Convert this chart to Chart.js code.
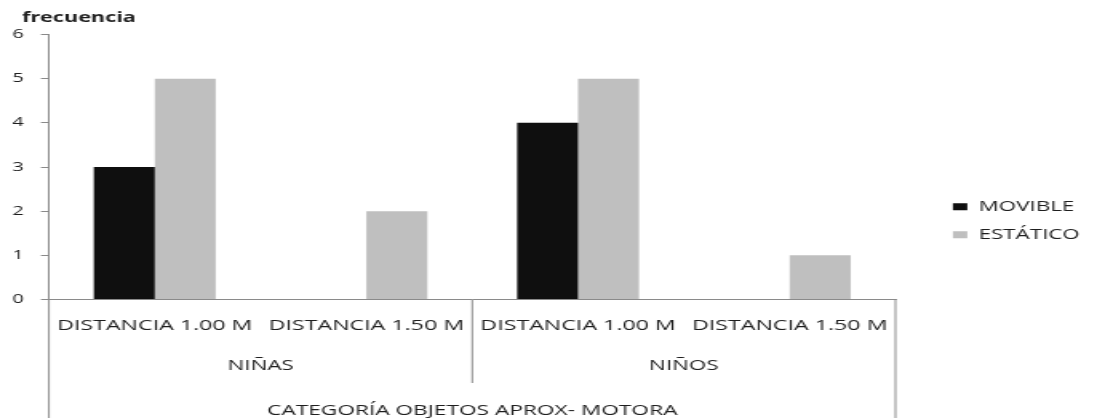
<!DOCTYPE html>
<html>
<head>
<meta charset="utf-8">
<script src="https://cdn.jsdelivr.net/npm/chart.js@4.4.1/dist/chart.umd.min.js"></script>
<style>
  html, body { margin: 0; padding: 0; background: #ffffff; overflow: hidden; }
  #wrap { width: 686px; height: 418px; transform: scaleX(1.5991); transform-origin: 0 0; }
  #c { display: block; }
</style>
</head>
<body>
<div id="wrap"><canvas id="c" width="686" height="418" style="width:686px;height:418px"></canvas></div>
<script>
// Categories (first level) and their groups (second level)
const categories = ['DISTANCIA 1.00 M', 'DISTANCIA 1.50 M', 'DISTANCIA 1.00 M', 'DISTANCIA 1.50 M'];
const groups = ['NIÑAS', 'NIÑOS'];
const groupSize = 2;

// Series
const seriesNames = ['MOVIBLE', 'ESTÁTICO'];
const movible = [3, 0, 4, 0];
const estatico = [5, 2, 5, 1];

// Axis settings
const yMin = 0;
const yMax = 6;
const yStep = 1;

const yTitle = 'frecuencia';
const xTitle = 'CATEGORÍA OBJETOS APROX- MOTORA';

const AXIS_COLOR = '#8a8a8a';
const TEXT_COLOR = '#1e1e1e';
const FONT = "'Open Sans', sans-serif";

// Layout (canvas units)
const CANVAS_W = 686;
const PLOT_RIGHT = 560;
const LEGEND_LEFT = 581.9;
const LEGEND_FONT = 14;
const LEGEND_PAD = 14;
const LEGEND_BOX_W = 9;
const LEGEND_EXTRA = 10; // Chart.js adds this to vertical legends

Chart.defaults.font.family = FONT;
Chart.defaults.color = TEXT_COLOR;

// Width the legend will take, so the legend sits at LEGEND_LEFT
const measure = document.createElement('canvas').getContext('2d');
measure.font = LEGEND_FONT + "px " + FONT;
const legendTextW = Math.max(...seriesNames.map(t => measure.measureText(t).width));
const legendW = LEGEND_PAD + LEGEND_BOX_W + LEGEND_FONT / 2 + legendTextW + LEGEND_EXTRA;
const padRight = Math.max(0, CANVAS_W - LEGEND_LEFT - legendW);

// Draws the value-axis caption, the second category level (group names),
// the separators between groups and the outer borders below the plot.
const groupAxis = {
  id: 'groupAxis',
  afterDraw(chart) {
    const { ctx, scales: { x } } = chart;
    const half = (x.getPixelForValue(1) - x.getPixelForValue(0)) / 2;
    const top = x.top;
    ctx.save();
    // caption above the value axis
    ctx.fillStyle = TEXT_COLOR;
    ctx.font = "bold 13.5px " + FONT;
    ctx.textAlign = 'left';
    ctx.textBaseline = 'alphabetic';
    ctx.fillText(yTitle, 13.75, 22);

    ctx.strokeStyle = AXIS_COLOR;
    ctx.lineWidth = 1;
    ctx.beginPath();
    // outer borders
    ctx.moveTo(x.left, top); ctx.lineTo(x.left, chart.height);
    ctx.moveTo(x.right, top); ctx.lineTo(x.right, chart.height);
    // separators between groups
    for (let g = 1; g < groups.length; g++) {
      const sx = x.getPixelForValue(g * groupSize) - half;
      ctx.moveTo(sx, top); ctx.lineTo(sx, top + 83.5);
    }
    ctx.stroke();

    ctx.font = "14px " + FONT;
    ctx.textAlign = 'center';
    ctx.textBaseline = 'middle';
    groups.forEach((name, g) => {
      const l = x.getPixelForValue(g * groupSize) - half;
      const r = x.getPixelForValue(g * groupSize + groupSize - 1) + half;
      ctx.fillText(name, (l + r) / 2, top + 67);
    });
    ctx.restore();
  }
};

new Chart(document.getElementById('c'), {
  type: 'bar',
  data: {
    labels: categories,
    datasets: [
      { label: seriesNames[0], data: movible, backgroundColor: '#0f0f0f', borderWidth: 0,
        barPercentage: 1, categoryPercentage: 0.576 },
      { label: seriesNames[1], data: estatico, backgroundColor: '#bfbfbf', borderWidth: 0,
        barPercentage: 1, categoryPercentage: 0.576 }
    ]
  },
  options: {
    responsive: false,
    devicePixelRatio: 1,
    animation: false,
    layout: { padding: { left: 0, right: padRight, top: 34.5, bottom: 11.1 } },
    plugins: {
      title: { display: false },
      legend: {
        position: 'right',
        align: 'center',
        labels: {
          boxWidth: LEGEND_BOX_W,
          boxHeight: 7,
          padding: LEGEND_PAD,
          color: TEXT_COLOR,
          font: { size: LEGEND_FONT, family: FONT }
        }
      },
      tooltip: { enabled: false }
    },
    scales: {
      x: {
        grid: { display: false },
        border: { display: true, color: AXIS_COLOR, width: 1 },
        ticks: { autoSkip: false, maxRotation: 0, padding: 10, color: TEXT_COLOR,
                 font: { size: 14.5, family: FONT } },
        title: { display: true, text: xTitle, color: TEXT_COLOR,
                 font: { size: 14.2, family: FONT }, padding: { top: 0, bottom: -12.8 } },
        afterFit(s) { s.height = 107.4; }
      },
      y: {
        min: yMin,
        max: yMax,
        ticks: { stepSize: yStep, padding: 10.6, color: TEXT_COLOR, font: { size: 12.5, family: FONT } },
        grid: { drawOnChartArea: false, drawTicks: true, tickLength: 5, color: AXIS_COLOR },
        border: { display: true, color: AXIS_COLOR, width: 1 },
        afterFit(s) { s.width = 30.6; }
      },
      y2: {
        position: 'right',
        display: true,
        grid: { display: false },
        ticks: { display: false },
        border: { display: false },
        // keeps the plot's right edge fixed whatever width the legend takes
        afterFit(s) {
          const lg = s.chart.legend;
          s.width = Math.max(0, s.chart.width - padRight - lg.width - PLOT_RIGHT);
        }
      }
    }
  },
  plugins: [groupAxis]
});
</script>
</body>
</html>
